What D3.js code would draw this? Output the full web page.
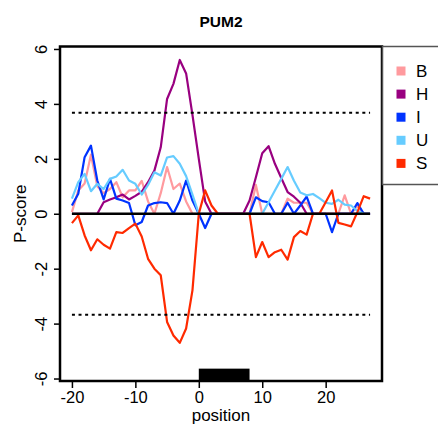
<!DOCTYPE html>
<html lang="en">
<head>
  <meta charset="UTF-8">
  <title>PUM2</title>
  <script src="https://d3js.org/d3.v7.min.js"></script>
  <style>
    body {
      margin: 0;
      background-color: white;
      font-family: "Liberation Sans", Arial, sans-serif;
    }
    svg { display: block; }
  </style>
</head>
<body>
  <div id="chart"></div>

  <script>
    // Data: positions -20..27
    const positions = d3.range(-20, 28);

    const seriesB = [0.06, 0.85, 1.1, 2.15, 1.0, 0.75, 0.9, 1.15, 0.6, 0.85, 0.85, 1.2, 0.45, 0, 0.75, 1.7, 0.9, 1.1, 0.45, 0,
      0, 0, 0, 0, 0, 0, 0, 0, 0, 1.05, 0, 0, 0, 0, 0.55, 0.4, 0.4, 0.4, 0, 0,
      0, 0, 0, 0.67, 0, 0.3, 0, 0];
    const seriesH = [0, 0, 0, 0, 0, 0.42, 0.52, 0.6, 0.7, 0.52, 0.65, 0.8, 1.15, 1.57, 2.42, 4.18, 4.73, 5.6, 5.11, 3.6,
      2.0, 0.45, 0, 0, 0, 0, 0, 0, 0.48, 1.33, 2.2, 2.46, 1.82, 1.3, 0.79, 0.62, 0.4, 0, 0, 0,
      0, 0, 0, 0, 0, 0, 0, 0];
    const seriesI = [0.3, 0.73, 2.06, 2.48, 1.21, 0.52, 1.27, 0.55, 0.48, 0.39, -0.42, -0.3, 0.3, 0.39, 0.42, 0.39, 0, 0.48, 1.21, 0.48,
      0, -0.52, 0, 0, 0, 0, 0, 0, 0, 0.6, 0.46, 0.42, 0, 0, 0.4, 0, 0.3, 0.62, 0, 0,
      0, -0.67, 0, 0, 0, 0.39, 0, 0];
    const seriesU = [0.55, 1.15, 1.45, 0.82, 1.09, 0.9, 1.27, 1.36, 1.6, 1.21, 1.09, 0.7, 1.05, 1.51, 1.39, 2.05, 2.1, 1.82, 1.37, 0.7,
      0, 0, 0, 0, 0, 0, 0, 0, 0, 0, 0, 0.42, 0.85, 1.27, 1.7, 1.2, 0.77, 0.67, 0.72, 0.57,
      0.4, 0.36, 0.51, 0.33, 0.3, 0.1, 0, 0];
    const seriesS = [-0.34, -0.06, -0.79, -1.33, -0.93, -1.13, -1.27, -0.67, -0.7, -0.52, -0.36, -0.83, -1.64, -2.0, -2.24, -3.94, -4.43, -4.7, -4.18, -2.79,
      0, 0.85, 0.3, 0, 0, 0, 0, 0, 0, -1.58, -1.03, -1.58, -1.4, -1.31, -1.67, -0.85, -0.63, -0.76, 0, 0,
      0.42, 0.85, -0.33, -0.39, -0.46, 0.06, 0.64, 0.55];

    const seriesNames = ['B', 'H', 'I', 'U', 'S'];
    const seriesColors = ['#ff9a9e', '#990080', '#0033ff', '#66ccff', '#ff2a00'];
    const seriesValues = [seriesB, seriesH, seriesI, seriesU, seriesS];

    const xTicks = [-20, -10, 0, 10, 20];
    const yTicks = [-6, -4, -2, 0, 2, 4, 6];
    const threshold = 3.68;     // dotted significance lines at +/- threshold
    const motif = [0, 8];       // black bar under the plot

    // Dimensions
    const W = 438, H = 430;
    const plot = { left: 60, right: 382, top: 46.5, bottom: 381 };

    const xScale = d3.scaleLinear()
      .domain([-21.88, 28.88])
      .range([plot.left, plot.right]);

    const yScale = d3.scaleLinear()
      .domain([-6.09, 6.09])
      .range([plot.bottom, plot.top]);

    const svg = d3.select('#chart')
      .append('svg')
      .attr('width', W)
      .attr('height', H);

    svg.append('rect')
      .attr('width', W)
      .attr('height', H)
      .attr('fill', 'white');

    // Motif bar
    svg.append('rect')
      .attr('x', xScale(motif[0]))
      .attr('y', yScale(-5.64))
      .attr('width', xScale(motif[1]) - xScale(motif[0]))
      .attr('height', plot.bottom - yScale(-5.64))
      .attr('fill', 'black');

    // Series lines
    const line = d3.line()
      .x((d, i) => xScale(positions[i]))
      .y(d => yScale(d));

    seriesValues.forEach((vals, k) => {
      svg.append('path')
        .datum(vals)
        .attr('d', line)
        .attr('fill', 'none')
        .attr('stroke', seriesColors[k])
        .attr('stroke-width', 2.2)
        .attr('stroke-linejoin', 'round');
    });

    // Zero line
    svg.append('line')
      .attr('x1', xScale(-20))
      .attr('x2', xScale(27))
      .attr('y1', yScale(0))
      .attr('y2', yScale(0))
      .attr('stroke', 'black')
      .attr('stroke-width', 2.5);

    // Dotted threshold lines
    [threshold, -threshold].forEach(t => {
      svg.append('line')
        .attr('x1', xScale(-20))
        .attr('x2', xScale(27))
        .attr('y1', yScale(t))
        .attr('y2', yScale(t))
        .attr('stroke', 'black')
        .attr('stroke-width', 2)
        .attr('stroke-dasharray', '3,3.6');
    });

    // Plot box
    svg.append('rect')
      .attr('x', plot.left)
      .attr('y', plot.top)
      .attr('width', plot.right - plot.left)
      .attr('height', plot.bottom - plot.top)
      .attr('fill', 'none')
      .attr('stroke', 'black')
      .attr('stroke-width', 2.5);

    // Axes (plain hyphen for negatives, like R)
    const fmt = d => String(d);

    const xAxis = d3.axisBottom(xScale)
      .tickValues(xTicks)
      .tickFormat(fmt)
      .tickSize(7)
      .tickPadding(4);

    const gx = svg.append('g')
      .attr('transform', `translate(0, ${plot.bottom})`)
      .call(xAxis);

    const yAxis = d3.axisLeft(yScale)
      .tickValues(yTicks)
      .tickFormat(fmt)
      .tickSize(6);

    const gy = svg.append('g')
      .attr('transform', `translate(${plot.left}, 0)`)
      .call(yAxis);

    [gx, gy].forEach(g => {
      g.select('.domain').remove();
      g.selectAll('.tick line').attr('stroke', 'black').attr('stroke-width', 1.5);
      g.selectAll('.tick text')
        .attr('font-family', '"Liberation Sans", Arial, sans-serif')
        .attr('font-size', 16.5)
        .attr('fill', 'black');
    });

    gx.selectAll('.tick text')
      .attr('y', 0)
      .attr('dy', 22);

    // y tick labels run along the axis
    gy.selectAll('.tick text')
      .attr('x', null)
      .attr('dy', null)
      .attr('text-anchor', 'middle')
      .attr('transform', 'translate(-13, 0) rotate(-90)');

    // Labels
    svg.append('text')
      .attr('x', (plot.left + plot.right) / 2)
      .attr('y', 27)
      .attr('text-anchor', 'middle')
      .attr('font-size', 15.5)
      .attr('font-weight', 'bold')
      .text('PUM2');

    svg.append('text')
      .attr('x', (plot.left + plot.right) / 2)
      .attr('y', 421)
      .attr('text-anchor', 'middle')
      .attr('font-size', 17)
      .text('position');

    svg.append('text')
      .attr('transform', `translate(26, ${(plot.top + plot.bottom) / 2}) rotate(-90)`)
      .attr('text-anchor', 'middle')
      .attr('font-size', 17)
      .text('P-score');

    // Legend (runs past the right edge)
    const legend = svg.append('g')
      .attr('transform', `translate(${plot.right}, ${plot.top})`);

    legend.append('rect')
      .attr('x', 0.5)
      .attr('y', 0)
      .attr('width', 90)
      .attr('height', 138)
      .attr('fill', 'white')
      .attr('stroke', '#555')
      .attr('stroke-width', 1.5);

    seriesNames.forEach((name, k) => {
      const cy = 24.5 + k * 23.1;
      legend.append('rect')
        .attr('x', 14.5)
        .attr('y', cy - 4.5)
        .attr('width', 9)
        .attr('height', 9)
        .attr('fill', seriesColors[k]);
      legend.append('text')
        .attr('x', 34)
        .attr('y', cy + 6)
        .attr('font-size', 17)
        .text(name);
    });
  </script>
</body>
</html>
